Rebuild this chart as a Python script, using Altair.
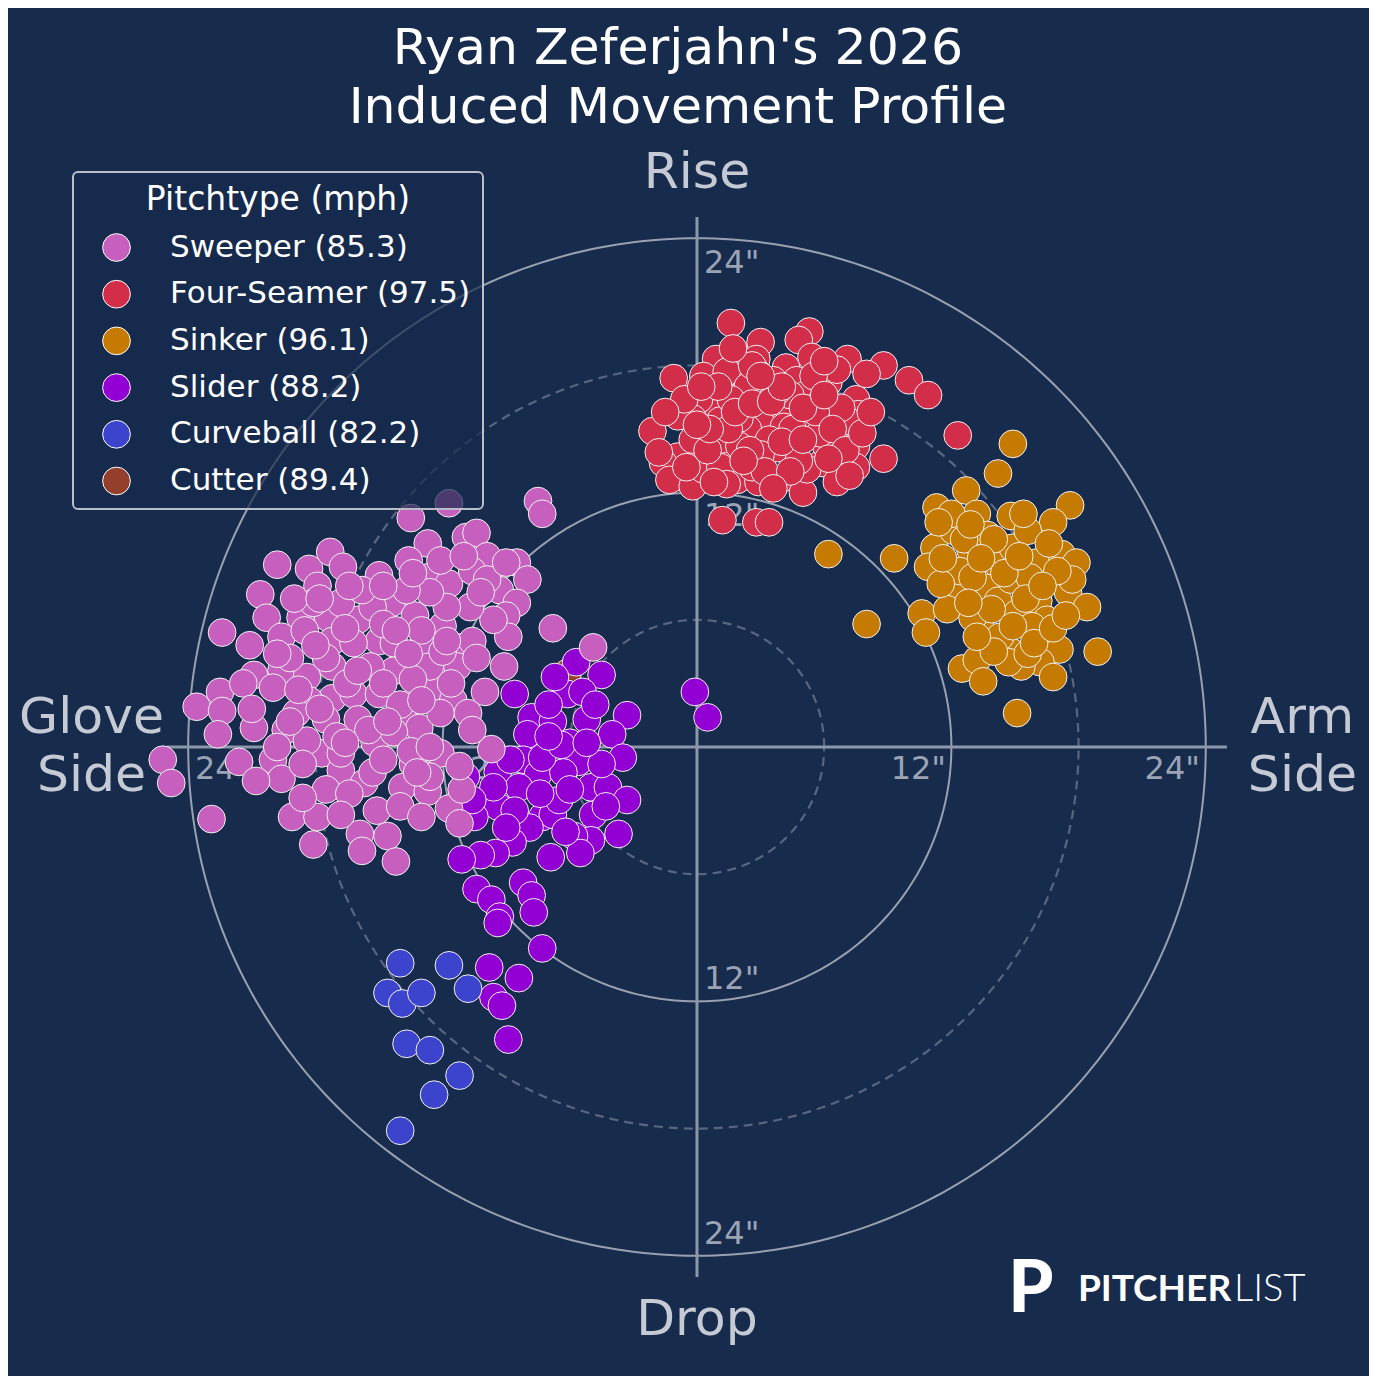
import altair as alt
import pandas as pd
import numpy as np

BG = "#172b4d"

# ---- pitch types (legend order) ----
pitch_names = ["Sweeper", "Four-Seamer", "Sinker", "Slider", "Curveball", "Cutter"]
pitch_mph = [85.3, 97.5, 96.1, 88.2, 82.2, 89.4]
pitch_colors = ["#c75fbe", "#d22d49", "#c57a02", "#9300d3", "#3c44cd", "#933f2c"]

# ---- (horizontal break, induced vertical break) in inches; + = arm side ----
ff = [(1.6,20.0),(5.3,19.6),(4.8,19.2),(3.0,19.1),(0.9,18.3),(2.8,18.3),(5.4,18.4),(7.1,18.3),
      (8.8,18.0),(10.0,17.3),(10.9,16.6),(12.3,14.7),(-1.1,17.4),(0.3,17.5),(1.4,17.7),(2.8,17.7),
      (4.2,17.9),(4.7,17.3),(6.2,17.2),(5.1,16.6),(7.5,16.4),(7.6,15.7),(6.1,15.4),(0.8,16.2),
      (2.0,16.5),(3.0,16.0),(0.1,16.4),(-0.2,15.5),(1.1,15.4),(-2.1,14.9),(2.9,14.6),(4.5,14.0),
      (4.8,14.9),(6.6,14.6),(7.5,14.2),(8.8,13.6),(-0.9,13.7),(0.3,13.9),(1.7,13.9),(-1.6,13.4),
      (-1.3,12.6),(-0.2,12.3),(0.3,13.1),(1.9,12.6),(2.9,12.5),(3.9,12.6),(5.0,12.0),(5.9,13.4),
      (6.9,13.2),(6.6,12.5),(7.5,13.2),(1.2,10.7),(2.8,10.6),(3.4,10.6),(3.8,14.1),(3.3,15.6),
      (4.2,15.8),(5.8,16.2),(2.4,15.0),(1.1,14.5),(-0.2,14.5),(7.1,15.4),(5.2,13.1),(2.6,13.2),
      (1.1,13.2),(-0.5,13.2),(2.4,17.0),(3.6,17.3),(6.6,17.8),(8.0,17.6),(-0.9,15.6),(4.1,15.1),
      (6.1,14.2),(2.0,14.2),(3.4,14.5),(4.4,16.6),(1.6,16.4),(5.3,15.2),(3.0,13.8),(2.0,15.5),
      (3.8,16.8),(4.5,15.0),(1.5,15.0),(2.5,14.0),(5.8,14.8),(6.8,16.0),(0.5,14.0),(3.2,13.0),
      (4.8,13.5),(1.0,17.0),(5.5,17.5),(0.6,15.0),(1.8,15.8),(2.6,16.2),(3.5,16.3),(4.0,14.4),
      (5.0,14.5),(5.6,15.8),(6.4,15.0),(7.0,14.0),(6.2,13.6),(4.4,13.0),(3.6,12.2),(2.2,13.5),
      (1.4,12.4),(0.0,15.2),(-0.6,16.4),(-1.5,15.8),(0.8,12.5),(4.0,17.0),(5.0,16.0),(6.0,16.6),
      (7.8,14.8),(8.2,15.8),(2.6,18.0),(1.7,18.8),(6.0,18.2),(-1.8,13.9),(7.2,12.8),(3.0,17.5),
      (0.2,17.0)]

si = [(14.9,14.3),(14.2,12.9),(12.7,12.1),(6.2,9.1),(9.3,8.9),(8.0,5.8),(10.6,6.3),(10.8,5.4),
      (17.6,11.4),(18.9,4.5),(15.1,1.6),(11.3,11.3),(13.2,11.0),(14.8,10.9),(16.8,10.6),(11.2,9.4),
      (12.9,9.3),(10.9,8.5),(14.2,8.6),(16.0,8.7),(17.2,9.1),(17.9,8.7),(12.1,7.2),(11.8,6.5),
      (13.7,7.5),(14.2,6.9),(15.1,6.3),(16.1,6.9),(17.5,7.3),(18.4,6.6),(13.5,5.4),(13.0,6.1),
      (16.5,6.0),(14.8,4.5),(16.5,5.0),(17.1,4.6),(16.2,4.0),(15.3,3.8),(16.8,3.3),(14.7,4.0),
      (12.5,3.7),(13.2,4.1),(13.5,3.1),(12.4,8.3),(14.8,7.9),(15.7,8.0),(14.9,9.4),(13.7,10.0),
      (12.1,10.2),(15.6,10.2),(15.8,5.7),(17.7,7.9),(17.0,8.3),(11.5,7.7),(14.3,5.2),(15.6,4.4),
      (13.0,8.0),(14.0,9.8),(15.5,7.0),(12.0,11.0),(11.4,10.6),(16.6,9.6),(12.6,9.8),(13.4,8.9),
      (14.5,8.2),(15.2,9.0),(16.3,7.6),(13.9,6.5),(12.8,6.8),(11.6,8.9),(14.9,5.7),(15.9,4.9),
      (14.0,4.5),(16.8,5.6),(13.2,5.2),(17.4,6.2),(15.4,11.0),(12.9,10.5)]

sl = [(-5.7,4.0),(-4.5,3.4),(-8.6,2.5),(-6.1,2.5),(-5.4,2.6),(-7.8,1.4),(-6.8,1.2),(-5.2,1.3),
      (-3.3,1.5),(-4.0,0.6),(-6.0,0.2),(-8.0,0.6),(-8.2,-0.6),(-5.6,-0.7),(-3.5,-0.5),(-7.5,-1.3),
      (-6.3,-1.2),(-5.0,-1.9),(-4.2,-1.9),(-3.3,-2.5),(-10.9,-1.4),(-9.4,-1.2),(-8.4,-1.9),(-9.4,-2.8),
      (-10.5,-3.3),(-7.3,-3.3),(-6.8,-3.2),(-7.9,-3.8),(-6.5,-2.5),(-4.9,-3.2),(-3.7,-4.1),(-5.0,-4.4),
      (-5.8,-4.2),(-5.5,-5.0),(-6.9,-5.2),(-8.7,-4.5),(-9.5,-5.0),(-10.2,-5.1),(-11.1,-5.3),(-10.4,-6.7),
      (-9.7,-7.2),(-9.3,-8.0),(-9.4,-8.3),(-8.2,-6.4),(-7.8,-7.0),(-7.7,-7.8),(-7.3,-9.5),(-9.8,-10.4),
      (-8.4,-10.9),(-9.6,-11.8),(-9.2,-12.2),(-8.9,-13.8),(-0.1,2.6),(0.5,1.4),(-7.3,-0.5),(-6.4,0.1),
      (-9.6,-1.9),(-8.8,-0.6),(-10.6,-2.5),(-6.7,3.3),(-4.8,2.0),(-7.0,2.0),(-6.0,-2.0),(-4.5,-0.8),
      (-7.4,-2.2),(-8.6,-3.0),(-6.2,-4.0),(-9.0,-3.8),(-4.3,-2.8),(-7.0,0.5),(-5.2,0.2)]

st = [(-11.7,11.5),(-7.5,11.6),(-7.3,11.0),(-13.5,10.8),(-12.7,9.6),(-10.9,9.9),(-10.4,10.1),(-9.9,9.0),
      (-8.5,8.7),(-8.0,7.9),(-9.3,7.4),(-8.5,6.8),(-9.0,6.2),(-8.9,5.2),(-9.1,3.8),(-6.8,5.6),
      (-19.8,8.6),(-18.3,8.4),(-17.3,9.2),(-16.7,8.5),(-20.6,7.2),(-20.3,6.1),(-18.7,6.1),(-17.9,7.6),
      (-22.4,5.4),(-21.1,4.8),(-19.6,5.2),(-17.4,6.1),(-16.0,6.0),(-15.0,8.1),(-13.6,8.8),(-12.7,8.0),
      (-11.7,7.7),(-10.6,8.3),(-9.9,7.9),(-14.4,6.8),(-13.3,6.2),(-12.0,5.7),(-11.3,4.7),(-12.9,4.9),
      (-15.0,5.0),(-17.2,5.0),(-20.9,3.4),(-19.6,3.6),(-20.0,2.8),(-18.4,3.3),(-17.2,2.3),(-18.3,2.2),
      (-23.6,1.9),(-22.5,2.6),(-22.4,1.7),(-22.6,0.6),(-20.9,0.9),(-19.4,0.8),(-20.0,-0.6),(-21.6,-0.7),
      (-25.2,-0.6),(-24.8,-1.7),(-22.9,-3.4),(-19.6,-1.5),(-19.1,-3.3),(-18.1,-4.6),(-17.9,-3.3),(-17.7,-0.3),
      (-16.8,-1.1),(-17.5,-2.0),(-15.9,-4.1),(-15.8,-4.9),(-14.6,-4.2),(-14.2,-5.4),(-15.1,-3.0),(-15.7,-1.7),
      (-13.9,-1.9),(-14.0,-2.8),(-12.7,-2.1),(-11.7,-2.9),(-11.1,-2.0),(-9.7,-0.1),(-12.8,-0.1),(-15.2,0.2),
      (-16.8,-0.3),(-16.2,2.5),(-15.0,2.5),(-13.9,1.6),(-13.1,0.9),(-12.5,2.7),(-11.5,2.2),(-10.8,1.6),
      (-11.3,3.8),(-12.6,3.8),(-14.3,3.6),(-15.4,3.8),(-17.2,3.8),(-16.2,4.9),(-14.3,4.9),(-15.3,6.6),
      (-16.8,6.8),(-18.1,6.8),(-19.2,4.2),(-17.5,4.2),(-16.0,1.3),(-17.5,1.3),(-18.9,1.6),(-19.8,0.0),
      (-18.4,0.3),(-15.3,-1.2),(-14.3,0.7),(-13.4,-0.8),(-12.1,-0.3),(-12.6,-1.4),(-11.2,-0.9),(-12.1,1.6),
      (-13.4,3.2),(-10.6,5.0),(-9.6,6.0),(-10.7,6.6),(-11.8,6.6),(-12.6,7.3),(-13.7,7.4),(-12.1,8.8),
      (-9.0,8.7),(-10.2,7.3),(-4.9,4.7),(-14.8,5.8),(-13.0,5.5),(-16.5,3.0),(-14.0,2.0),(-12.0,4.5),
      (-15.5,0.8),(-17.0,0.5),(-13.5,-0.2),(-18.5,5.5),(-15.8,7.4),(-19.0,7.0),(-17.8,7.0),(-16.4,7.6),
      (-14.8,7.6),(-13.4,8.2),(-11.0,9.0),(-19.8,4.4),(-18.0,4.8),(-16.6,5.6),(-14.2,5.5),(-13.6,4.4),
      (-11.8,5.0),(-10.4,4.2),(-21.4,3.0),(-18.8,2.7),(-16.0,3.6),(-14.8,3.0),(-13.0,2.2),(-11.6,3.0),
      (-21.0,1.8),(-19.2,1.2),(-17.8,1.8),(-16.6,0.2),(-14.6,1.2),(-12.6,0.0),(-20.8,-1.6),(-18.6,-0.8),
      (-16.4,-2.2),(-14.8,-0.6),(-13.2,-1.2),(-18.6,-2.4),(-16.8,-3.2),(-13.0,-3.3),(-10.6,0.8),(-10.0,2.6),
      (-11.2,-3.6)]

cu = [(-14.0,-10.2),(-14.6,-11.6),(-13.9,-12.1),(-13.0,-11.6),(-11.7,-10.3),(-10.8,-11.4),
      (-13.7,-14.0),(-12.6,-14.3),(-11.2,-15.5),(-12.4,-16.4),(-14.0,-18.1)]

fc = [(-6.1,3.5)]

# ---- guides ----
ring_radii = [6, 12, 18, 24]
ring_dashed = [True, False, True, False]
axis_extent = 25

tick_left = pd.DataFrame({
    "x": [0.33, 0.33, 0.33, 0.33, -23.68, -11.68],
    "y": [22.36, 10.42, -11.42, -23.44, -1.51, -1.51],
    "t": ['24"', '12"', '12"', '24"', '24"', '12"'],
})
tick_right = pd.DataFrame({"x": [11.75, 23.73], "y": [-1.51, -1.51], "t": ['12"', '24"']})

dir_labels = pd.DataFrame({
    "x": [0.0, 0.0, -28.56, -28.56, 28.56, 28.56],
    "y": [26.37, -27.74, 0.66, -2.08, 0.66, -2.08],
    "t": ["Rise", "Drop", "Glove", "Side", "Arm", "Side"],
})
title_lines = pd.DataFrame({"x": [-0.9, -0.9], "y": [32.2, 29.43],
                            "t": ["Ryan Zeferjahn's 2026", "Induced Movement Profile"]})

# ---- build tables ----
labels = [f"{n} ({m})" for n, m in zip(pitch_names, pitch_mph)]
lab = dict(zip(pitch_names, labels))
rows = []
for name, pts in [("Cutter", fc), ("Slider", sl), ("Sweeper", st), ("Curveball", cu),
                  ("Four-Seamer", ff), ("Sinker", si)]:
    for hb, ivb in pts:
        rows.append({"hb": hb, "ivb": ivb, "pitch": lab[name]})
pts_df = pd.DataFrame(rows)

theta = np.linspace(0, 2 * np.pi, 361)
ring_rows = []
for r, d in zip(ring_radii, ring_dashed):
    for i, t in enumerate(theta):
        ring_rows.append({"r": r, "dashed": d, "i": i, "x": r * np.cos(t), "y": r * np.sin(t)})
ring_df = pd.DataFrame(ring_rows)

axis_df = pd.DataFrame({"x": [-axis_extent, 0], "x2": [axis_extent, 0],
                        "y": [0, -axis_extent], "y2": [0, axis_extent]})

xs = alt.Scale(domain=[-32.5, 31.7], nice=False, zero=False)
ys = alt.Scale(domain=[-29.67, 34.86], nice=False, zero=False)


def X(f):
    return alt.X(f, scale=xs, axis=None)


def Y(f):
    return alt.Y(f, scale=ys, axis=None)


rings_solid = alt.Chart(ring_df[~ring_df.dashed]).mark_line(
    color="#a7aebb", strokeWidth=2, opacity=0.9
).encode(x=X("x:Q"), y=Y("y:Q"), detail="r:N", order="i:Q")

rings_dash = alt.Chart(ring_df[ring_df.dashed]).mark_line(
    color="#58667f", strokeWidth=2.2, strokeDash=[9, 6]
).encode(x=X("x:Q"), y=Y("y:Q"), detail="r:N", order="i:Q")

axes = alt.Chart(axis_df).mark_rule(color="#8d97aa", strokeWidth=3).encode(
    x=X("x:Q"), x2="x2:Q", y=Y("y:Q"), y2="y2:Q"
)

ticks_l = alt.Chart(tick_left).mark_text(
    align="left", baseline="alphabetic", font="DejaVu Sans", fontSize=32, color="#9ba3b4"
).encode(x=X("x:Q"), y=Y("y:Q"), text="t:N")
ticks_r = alt.Chart(tick_right).mark_text(
    align="right", baseline="alphabetic", font="DejaVu Sans", fontSize=32, color="#9ba3b4"
).encode(x=X("x:Q"), y=Y("y:Q"), text="t:N")

points = alt.Chart(pts_df).mark_point(
    filled=True, shape="circle", size=770, opacity=1, stroke="#f2f2f2", strokeWidth=1
).encode(
    x=X("hb:Q"), y=Y("ivb:Q"),
    color=alt.Color(
        "pitch:N",
        scale=alt.Scale(domain=labels, range=pitch_colors),
        legend=alt.Legend(
            orient="none", legendX=65, legendY=164,
            title="Pitchtype (mph)", titleFont="DejaVu Sans", titleFontSize=33,
            titleColor="white", titleFontWeight="normal", titleAnchor="middle",
            titlePadding=15, titleLimit=600,
            labelFont="DejaVu Sans", labelFontSize=31, labelColor="white",
            labelLimit=600, labelOffset=38,
            symbolType="circle", symbolSize=770, symbolStrokeColor="white",
            symbolStrokeWidth=1, symbolOpacity=1, symbolOffset=16,
            rowPadding=13.7, padding=12,
            strokeColor="#b9bec8", fillColor="rgba(23,43,77,0.7)", cornerRadius=5,
        ),
    ),
)

dirs = alt.Chart(dir_labels).mark_text(
    align="center", baseline="alphabetic", font="DejaVu Sans", fontSize=50.5, color="#c5cad4"
).encode(x=X("x:Q"), y=Y("y:Q"), text="t:N")

titles = alt.Chart(title_lines).mark_text(
    align="center", baseline="alphabetic", font="DejaVu Sans", fontSize=50.5, color="white"
).encode(x=X("x:Q"), y=Y("y:Q"), text="t:N")

logo_icon = alt.Chart(pd.DataFrame({"x": [15.75], "y": [-26.65], "t": ["P"]})).mark_text(
    align="center", baseline="alphabetic", font="Lato", fontWeight=900, fontSize=72, color="white"
).encode(x=X("x:Q"), y=Y("y:Q"), text="t:N")
logo_bold = alt.Chart(pd.DataFrame({"x": [17.97], "y": [-26.13], "t": ["PITCHER"]})).mark_text(
    align="left", baseline="alphabetic", font="Lato", fontWeight="bold", fontSize=37, color="white"
).encode(x=X("x:Q"), y=Y("y:Q"), text="t:N")
logo_light = alt.Chart(pd.DataFrame({"x": [25.33], "y": [-26.13], "t": ["LIST"]})).mark_text(
    align="left", baseline="alphabetic", font="Lato", fontWeight=300, fontSize=38, color="white"
).encode(x=X("x:Q"), y=Y("y:Q"), text="t:N")

chart = alt.layer(
    rings_dash, rings_solid, axes, ticks_l, ticks_r, points, dirs, titles,
    logo_icon, logo_bold, logo_light
).properties(
    width=1361, height=1368, padding=0, autosize="none", background=BG
).configure_view(stroke=None).configure_legend(strokeWidth=2)

chart.save("out.html", embed_options={"renderer": "svg", "actions": False})
